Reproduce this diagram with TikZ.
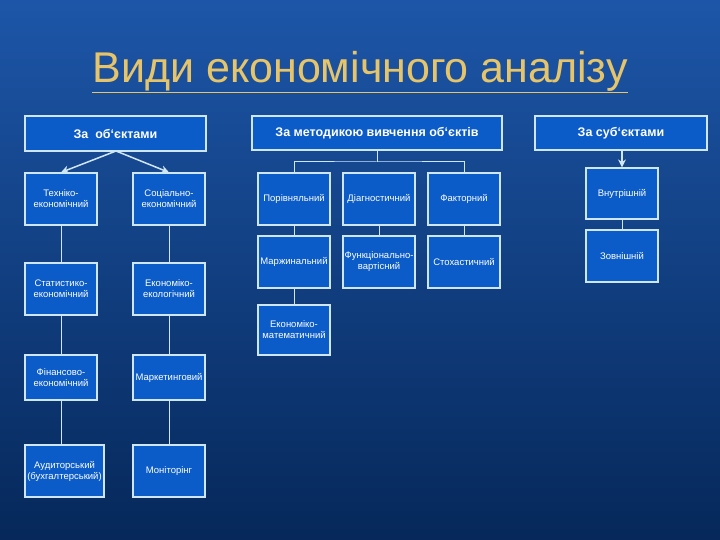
\documentclass[tikz,border=0pt]{standalone}
\usepackage{fontspec}
\setmainfont{Liberation Sans}
\usetikzlibrary{arrows.meta}
\definecolor{bgtop}{HTML}{1D56A8}
\definecolor{bgbot}{HTML}{06285A}
\definecolor{boxfill}{HTML}{0B5CC8}
\definecolor{boxline}{HTML}{CFE6F5}
\definecolor{titlec}{HTML}{E6C56A}
\tikzset{
  bx/.style={draw=boxline,line width=1.2pt,fill=boxfill,text=white,align=center,font=\fontsize{9.5}{11}\selectfont,inner sep=1pt},
  hd/.style={bx,font=\bfseries\fontsize{12.5}{14}\selectfont},
  ln/.style={draw=boxline,line width=1pt},
  ar/.style={ln,line width=1.5pt,-{Stealth[length=8pt,width=8pt]}}
}
\newcommand{\bxat}[6]{\node[bx,minimum width=#4-#2,minimum height=#5-#3] (#1) at ({(#2+#4)/2},{(#3+#5)/2}) {#6};}
\newcommand{\hdat}[6]{\node[hd,minimum width=#4-#2,minimum height=#5-#3] (#1) at ({(#2+#4)/2},{(#3+#5)/2}) {#6};}
\begin{document}
\begin{tikzpicture}[x=1pt,y=-1pt]
\shade[top color=bgtop,bottom color=bgbot] (0,0) rectangle (720,540);
\useasboundingbox (0,0) rectangle (720,540);
\node[text=titlec,font=\fontsize{43}{48}\selectfont] (title) at (360,72) {\underline{Види економічного аналізу}};
\hdat{h1}{25}{116}{206}{151}{За\ \ об`єктами}
\hdat{h2}{252}{116}{502}{150}{За методикою вивчення об`єктів}
\hdat{h3}{535}{116}{707}{150}{За суб`єктами}
% left
\bxat{a1}{25}{173}{97}{225}{Техніко-\\економічний}
\bxat{b1}{133}{173}{205}{225}{Соціально-\\економічний}
\bxat{a2}{25}{263}{97}{315}{Статистико-\\економічний}
\bxat{b2}{133}{263}{205}{315}{Економіко-\\екологічний}
\bxat{a3}{25}{355}{97}{400}{Фінансово-\\економічний}
\bxat{b3}{133}{355}{205}{400}{Маркетинговий}
\bxat{a4}{25}{445}{104}{497}{Аудиторський\\(бухгалтерський)}
\bxat{b4}{133}{445}{205}{497}{Моніторінг}
\coordinate (h1s) at (116,151);
\draw[ar] (h1s) -- (a1.north);
\draw[ar] (h1s) -- (b1.north);
\draw[ln] (a1) -- (a2) (a2) -- (a3) (a3) -- (a3|-a4.north);
\draw[ln] (b1) -- (b2) (b2) -- (b3) (b3) -- (b4);
% middle
\bxat{m1}{258}{173}{330}{225}{Порівняльний}
\bxat{m2}{343}{173}{415}{225}{Діагностичний}
\bxat{m3}{428}{173}{500}{225}{Факторний}
\bxat{n1}{258}{236}{330}{288}{Маржинальний}
\bxat{n2}{343}{236}{415}{288}{Функціонально-\\вартісний}
\bxat{n3}{428}{236}{500}{288}{Стохастичний}
\bxat{e1}{258}{305}{330}{355}{Економіко-\\математичний}
\coordinate (br) at (377,162);
\draw[ln] (h2.south) -- (br);
\draw[ln] (m1.north) |- (br) -| (m3.north);
\draw[ln] (m1) -- (n1) (m2) -- (n2) (m3) -- (n3) (n1) -- (e1);
% right
\bxat{r1}{586}{168}{658}{219}{Внутрішній}
\bxat{r2}{586}{230}{658}{282}{Зовнішній}
\draw[ar] (h3.south-|r1.north) -- (r1.north);
\draw[ln] (r1) -- (r2);
\end{tikzpicture}
\end{document}
